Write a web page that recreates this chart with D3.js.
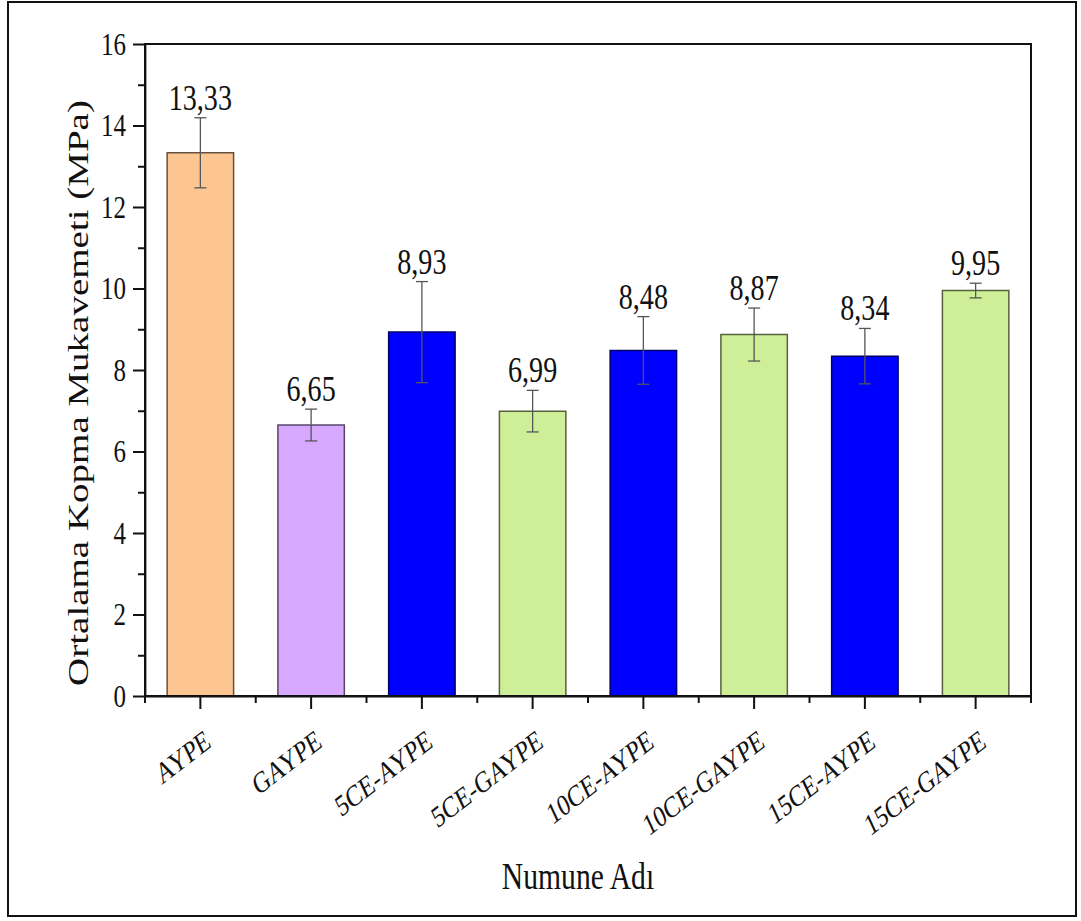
<!DOCTYPE html>
<html>
<head>
<meta charset="utf-8">
<script src="https://cdn.jsdelivr.net/npm/d3@7"></script>
<style>
  body { margin: 0; background: #fff; }
  svg { display: block; }
  text { font-family: 'Liberation Serif', 'Times New Roman', serif; fill: #111; }
  .axis path, .axis line { stroke: #111; stroke-width: 2; vector-effect: non-scaling-stroke; }
</style>
</head>
<body>
<svg width="1081" height="921"></svg>
<script>
const categories = ['AYPE', 'GAYPE', '5CE-AYPE', '5CE-GAYPE', '10CE-AYPE', '10CE-GAYPE', '15CE-AYPE', '15CE-GAYPE'];
const means = [13.33, 6.65, 8.93, 6.99, 8.48, 8.87, 8.34, 9.95];
const errors = [0.86, 0.39, 1.24, 0.51, 0.83, 0.65, 0.68, 0.18];
const barColors = ['#FCC592', '#D6A9FF', '#0000FF', '#CEEF97', '#0000FF', '#CEEF97', '#0000FF', '#CEEF97'];
const yTicks = [0, 2, 4, 6, 8, 10, 12, 14, 16];
const yMinorTicks = [1, 3, 5, 7, 9, 11, 13, 15];

const data = categories.map((c, i) => ({ name: c, mean: means[i], err: errors[i], color: barColors[i] }));

// the original figure is squeezed sideways, so draw wide and compress
const sx = 0.78;
const plotLeft = 145, plotRight = 1031, plotTop = 44, plotBottom = 696;
const serif = "'Liberation Serif', 'Times New Roman', serif";

const svg = d3.select('svg');
svg.append('rect')
  .attr('x', 8).attr('y', 2)
  .attr('width', 1068).attr('height', 914)
  .attr('fill', '#fff')
  .attr('stroke', '#111')
  .attr('stroke-width', 2);

const g = svg.append('g').attr('transform', 'scale(' + sx + ',1)');

const xScale = d3.scaleBand()
  .domain(categories)
  .range([plotLeft / sx, plotRight / sx])
  .paddingInner(0.4)
  .paddingOuter(0.2);

const yScale = d3.scaleLinear()
  .domain([0, 16])
  .range([plotBottom, plotTop]);

const fmt = d3.formatLocale({ decimal: ',', thousands: '.', grouping: [3], currency: ['', ''] }).format('.2f');

// bars
g.selectAll('rect.bar')
  .data(data)
  .enter()
  .append('rect')
  .attr('class', 'bar')
  .attr('x', d => xScale(d.name))
  .attr('width', xScale.bandwidth())
  .attr('y', d => yScale(d.mean))
  .attr('height', d => yScale(0) - yScale(d.mean))
  .attr('fill', d => d.color)
  .attr('stroke', d => d3.color(d.color).darker(2.5))
  .attr('stroke-width', 1.5)
  .attr('vector-effect', 'non-scaling-stroke');

// error bars
const capW = 12 / sx;
const eb = g.selectAll('g.err')
  .data(data)
  .enter()
  .append('g')
  .attr('class', 'err')
  .attr('transform', d => 'translate(' + (xScale(d.name) + xScale.bandwidth() / 2) + ',0)');

eb.append('line')
  .attr('x1', 0).attr('x2', 0)
  .attr('y1', d => yScale(d.mean - d.err))
  .attr('y2', d => yScale(d.mean + d.err));
eb.append('line')
  .attr('x1', -capW / 2).attr('x2', capW / 2)
  .attr('y1', d => yScale(d.mean + d.err))
  .attr('y2', d => yScale(d.mean + d.err));
eb.append('line')
  .attr('x1', -capW / 2).attr('x2', capW / 2)
  .attr('y1', d => yScale(d.mean - d.err))
  .attr('y2', d => yScale(d.mean - d.err));
eb.selectAll('line')
  .attr('stroke', '#555')
  .attr('stroke-width', 1.3)
  .attr('vector-effect', 'non-scaling-stroke');

// value labels
g.selectAll('text.val')
  .data(data)
  .enter()
  .append('text')
  .attr('class', 'val')
  .attr('x', d => xScale(d.name) + xScale.bandwidth() / 2)
  .attr('y', d => yScale(d.mean + d.err) - 8)
  .attr('text-anchor', 'middle')
  .style('font-family', serif)
  .style('font-size', '36px')
  .text(d => fmt(d.mean));

// frame (top and right)
g.append('rect')
  .attr('x', plotLeft / sx).attr('y', plotTop)
  .attr('width', (plotRight - plotLeft) / sx).attr('height', plotBottom - plotTop)
  .attr('fill', 'none')
  .attr('stroke', '#111')
  .attr('stroke-width', 2)
  .attr('vector-effect', 'non-scaling-stroke');

// y axis
const yAxis = d3.axisLeft(yScale)
  .tickValues(yTicks)
  .tickSize(12 / sx)
  .tickSizeOuter(0)
  .tickPadding(7 / sx)
  .tickFormat(d3.format('d'));

const yAxisG = g.append('g')
  .attr('class', 'axis')
  .attr('transform', 'translate(' + plotLeft / sx + ',0)')
  .call(yAxis);
yAxisG.selectAll('text')
  .style('font-family', serif)
  .style('font-size', '32px')
  .attr('fill', '#111');

const yMinor = d3.axisLeft(yScale)
  .tickValues(yMinorTicks)
  .tickSize(7 / sx)
  .tickSizeOuter(0)
  .tickFormat('');
g.append('g')
  .attr('class', 'axis')
  .attr('transform', 'translate(' + plotLeft / sx + ',0)')
  .call(yMinor)
  .select('path').remove();

// x axis
const xAxis = d3.axisBottom(xScale)
  .tickSize(13)
  .tickSizeOuter(0);

const xAxisG = g.append('g')
  .attr('class', 'axis')
  .attr('transform', 'translate(0,' + plotBottom + ')')
  .call(xAxis);
xAxisG.selectAll('text')
  .attr('x', 0).attr('y', 0).attr('dy', 0)
  .attr('text-anchor', 'end')
  .attr('transform', 'translate(' + 12 / sx + ',50) rotate(-31)')
  .attr('fill', '#111')
  .style('font-family', serif)
  .style('font-size', '30px');

// minor x ticks on the band boundaries
const bounds = categories.map(c => xScale(c) - xScale.step() * xScale.paddingInner() / 2);
bounds.push(xScale(categories[categories.length - 1]) + xScale.bandwidth() + xScale.step() * xScale.paddingInner() / 2);
g.append('g')
  .attr('class', 'axis')
  .selectAll('line')
  .data(bounds)
  .enter()
  .append('line')
  .attr('x1', d => d).attr('x2', d => d)
  .attr('y1', plotBottom).attr('y2', plotBottom + 7);

// axis titles
g.append('text')
  .attr('transform', 'translate(' + 88 / sx + ',393) rotate(-90)')
  .attr('text-anchor', 'middle')
  .style('font-family', serif)
  .style('font-size', '39px')
  .text('Ortalama Kopma Mukavemeti (MPa)');

g.append('text')
  .attr('x', 578 / sx)
  .attr('y', 889)
  .attr('text-anchor', 'middle')
  .style('font-family', serif)
  .style('font-size', '38px')
  .text('Numune Adı');
</script>
</body>
</html>
